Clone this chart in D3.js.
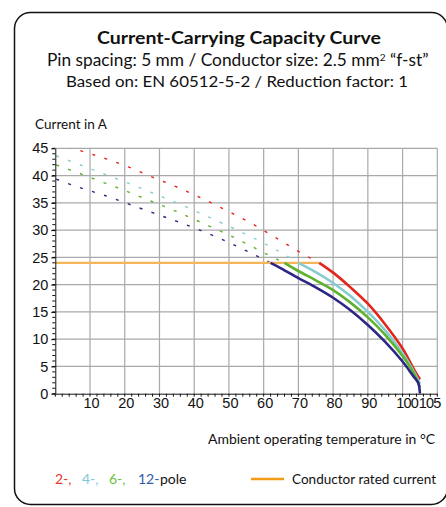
<!DOCTYPE html>
<html>
<head>
<meta charset="utf-8">
<script src="https://cdn.jsdelivr.net/npm/d3@7"></script>
<style>
  html, body { margin: 0; padding: 0; background: #fff; }
  svg { display: block; }
</style>
</head>
<body>
<svg id="chart" width="446" height="507"></svg>
<script>
// ---------- DATA ----------
const titleText = "Current-Carrying Capacity Curve";
const subtitle1 = "Pin spacing: 5 mm / Conductor size: 2.5 mm";
const subtitle1Sup = "2";
const subtitle1End = " “f-st”";
const subtitle2 = "Based on: EN 60512-5-2 / Reduction factor: 1";
const yAxisTitle = "Current in A";
const xAxisTitle = "Ambient operating temperature in °C";

const tempTicks = [10, 20, 30, 40, 50, 60, 70, 80, 90, 100, 105];
const tempGrid = [10, 20, 30, 40, 50, 60, 70, 80, 90, 100, 110];
const currentTicks = [0, 5, 10, 15, 20, 25, 30, 35, 40, 45];

const poles = ["2-", "4-", "6-", "12-"];

// extrapolated (dashed) parts: temperature and current
const extrapT_2  = [0, 7, 14, 21, 28, 35, 42, 49, 56, 63, 70, 76];
const extrapI_2  = [46.0, 44.6, 43.2, 41.6, 39.7, 37.9, 35.9, 33.7, 31.4, 28.8, 26.1, 24.0];
const extrapT_4  = [0, 7, 14, 21, 28, 35, 42, 49, 56, 63, 70];
const extrapI_4  = [43.7, 42.0, 40.3, 38.6, 36.8, 35.0, 33.0, 31.0, 28.9, 26.6, 24.0];
const extrapT_6  = [0, 7, 14, 21, 28, 35, 42, 49, 56, 63, 66];
const extrapI_6  = [42.0, 40.4, 38.7, 37.0, 35.2, 33.4, 31.4, 29.4, 27.2, 24.9, 24.0];
const extrapT_12 = [0, 7, 14, 21, 28, 35, 42, 49, 56, 62];
const extrapI_12 = [39.4, 37.8, 36.4, 34.8, 33.2, 31.6, 29.9, 28.0, 25.9, 24.0];

// derating curves (solid)
const curveT_2  = [76, 80, 85, 90, 95, 100, 103, 105];
const curveI_2  = [24.0, 22.2, 19.5, 16.5, 12.7, 8.3, 4.8, 2.6];
const curveT_4  = [70, 75, 80, 85, 90, 95, 100, 103, 105];
const curveI_4  = [24.0, 22.3, 20.3, 17.9, 15.0, 11.6, 7.4, 4.3, 1.8];
const curveT_6  = [66, 70, 75, 80, 85, 90, 95, 100, 103, 105];
const curveI_6  = [24.0, 22.5, 20.8, 19.0, 16.7, 14.0, 10.8, 6.9, 4.0, 1.2];
const curveT_12 = [62, 65, 70, 75, 80, 85, 90, 95, 100, 103, 104.5, 105];
const curveI_12 = [24.0, 23.0, 21.2, 19.5, 17.6, 15.3, 12.6, 9.5, 5.9, 3.3, 2.0, 0.0];

const ratedCurrent = 24;
const ratedTemps = [0, 76];

// ---------- STYLE ----------
const curveColors  = ["#e3261c", "#86ccd2", "#5eb22f", "#2c2684"];
const legendColors = ["#e8372c", "#7ec8dc", "#6bbf40", "#2f5ea8"];
const orange = "#f5b65a";
const orangeLegend = "#f39a16";
const textFont = "Lato, 'Open Sans', sans-serif";
const numFont = "'Liberation Sans', Arial, sans-serif";

const svg = d3.select("#chart");

// frame
svg.append("rect")
  .attr("x", 14.5).attr("y", 12.5)
  .attr("width", 433).attr("height", 492)
  .attr("rx", 16).attr("ry", 16)
  .attr("fill", "#fff").attr("stroke", "#111").attr("stroke-width", 1.5);

function fitText(sel, w) {
  sel.attr("textLength", w).attr("lengthAdjust", "spacingAndGlyphs");
  return sel;
}

// titles
fitText(svg.append("text").attr("x", 97).attr("y", 44)
  .attr("font-family", textFont).attr("font-weight", "bold").attr("font-size", 16.5)
  .attr("fill", "#111").text(titleText), 284);

const st1 = svg.append("text").attr("x", 47).attr("y", 65.5)
  .attr("font-family", textFont).attr("font-size", 15.5).attr("fill", "#111");
st1.append("tspan").text(subtitle1);
st1.append("tspan").attr("dy", -5).attr("font-size", 9).text(subtitle1Sup);
st1.append("tspan").attr("dy", 5).text(subtitle1End);
// fit width
(function(){
  const w = st1.node().getComputedTextLength();
  const target = 382;
  st1.attr("font-size", 15.5 * target / w);
  st1.selectAll("tspan").filter((d,i)=>i===1).attr("font-size", 9 * target / w);
})();

fitText(svg.append("text").attr("x", 66).attr("y", 86.5)
  .attr("font-family", textFont).attr("font-size", 15.5)
  .attr("fill", "#111").text(subtitle2), 342);

fitText(svg.append("text").attr("x", 35).attr("y", 129)
  .attr("font-family", textFont).attr("font-size", 14)
  .attr("fill", "#111").text(yAxisTitle), 72);

fitText(svg.append("text").attr("x", 208).attr("y", 444)
  .attr("font-family", textFont).attr("font-size", 14)
  .attr("fill", "#111").text(xAxisTitle), 227);

// ---------- SCALES ----------
const x = d3.scaleLinear().domain([0, 110]).range([55.3, 437.3]);
const y = d3.scaleLinear().domain([0, 45]).range([393.7, 148.3]);

// gridlines
const grid = svg.append("g").attr("stroke", "#a9a9a9").attr("stroke-width", 1.2);
grid.selectAll("line.v").data(tempGrid).join("line")
  .attr("x1", d => x(d)).attr("x2", d => x(d))
  .attr("y1", y(0)).attr("y2", y(45));
grid.selectAll("line.h").data(currentTicks.filter(d => d > 0)).join("line")
  .attr("x1", x(0)).attr("x2", x(110))
  .attr("y1", d => y(d)).attr("y2", d => y(d));

// clip
svg.append("clipPath").attr("id", "plotclip").append("rect")
  .attr("x", x(0)).attr("y", y(45)).attr("width", x(110) - x(0)).attr("height", y(0) - y(45));

const line = d3.line().x(d => x(d[0])).y(d => y(d[1])).curve(d3.curveMonotoneX);
const plot = svg.append("g").attr("clip-path", "url(#plotclip)");

const extrap = [[extrapT_2, extrapI_2], [extrapT_4, extrapI_4], [extrapT_6, extrapI_6], [extrapT_12, extrapI_12]];
const curves = [[curveT_2, curveI_2], [curveT_4, curveI_4], [curveT_6, curveI_6], [curveT_12, curveI_12]];

extrap.forEach((s, i) => {
  plot.append("path")
    .datum(s[0].map((t, j) => [t, s[1][j]]))
    .attr("d", line)
    .attr("fill", "none").attr("stroke", curveColors[i])
    .attr("stroke-width", 1.4).attr("stroke-dasharray", "3,9.6")
    .attr("stroke-dashoffset", -1);
});

// rated current line
plot.append("line")
  .attr("x1", x(ratedTemps[0])).attr("x2", x(ratedTemps[1]))
  .attr("y1", y(ratedCurrent)).attr("y2", y(ratedCurrent))
  .attr("stroke", orange).attr("stroke-width", 2.2);

const curveLine = d3.line().x(d => x(d[0])).y(d => y(d[1])).curve(d3.curveCatmullRom.alpha(0.5));
curves.forEach((s, i) => {
  plot.append("path")
    .datum(s[0].map((t, j) => [t, s[1][j]]))
    .attr("d", curveLine)
    .attr("fill", "none").attr("stroke", curveColors[i])
    .attr("stroke-width", 2.6).attr("stroke-linejoin", "round");
});

// ---------- AXES ----------
// y minor ticks
const yMinor = d3.range(0, 46, 1);
svg.append("g").selectAll("line").data(yMinor).join("line")
  .attr("x1", x(0) - 3).attr("x2", x(0))
  .attr("y1", d => y(d)).attr("y2", d => y(d))
  .attr("stroke", "#111").attr("stroke-width", 1);
// x minor ticks
const xMinor = d3.range(0, 111, 2);
svg.append("g").selectAll("line").data(xMinor).join("line")
  .attr("x1", d => x(d)).attr("x2", d => x(d))
  .attr("y1", y(0)).attr("y2", y(0) + 3)
  .attr("stroke", "#111").attr("stroke-width", 1);

const yAxis = svg.append("g").attr("transform", `translate(${x(0)},0)`)
  .call(d3.axisLeft(y).tickValues(currentTicks).tickSize(4).tickPadding(3).tickSizeOuter(0));
yAxis.select(".domain").attr("stroke", "#111");
yAxis.selectAll("text").attr("font-family", numFont).attr("font-size", 14.5).attr("fill", "#111");

const xAxis = svg.append("g").attr("transform", `translate(0,${y(0)})`)
  .call(d3.axisBottom(x).tickValues(tempTicks).tickSize(0).tickPadding(4).tickSizeOuter(0));
xAxis.select(".domain").attr("stroke", "#111");
xAxis.selectAll("text").attr("font-family", numFont).attr("font-size", 14.5).attr("fill", "#111")
  .attr("dx", d => d === 100 || d === 105 ? 0 : 1);
// crowded 100 / 105 labels sit side by side, meeting just left of the 105 position
const meetX = x(105) - 1.5;
xAxis.selectAll(".tick").filter(d => d === 100 || d === 105)
  .attr("transform", `translate(${meetX},0)`)
  .select("text")
  .attr("letter-spacing", -0.8)
  .attr("text-anchor", d => d === 100 ? "end" : "start")
  .attr("dx", d => d === 100 ? -0.3 : 0.3);
// ---------- LEGEND ----------
const legY = 484;
const legX = [55, 82, 109, 138];
const legLabels = ["2-,", "4-,", "6-,", "12-"];
legLabels.forEach((t, i) => {
  svg.append("text").attr("x", legX[i]).attr("y", legY)
    .attr("font-family", textFont).attr("font-size", 14)
    .attr("fill", legendColors[i]).text(t);
});
svg.append("text").attr("x", 160).attr("y", legY)
  .attr("font-family", textFont).attr("font-size", 14).attr("fill", "#111").text("pole");

svg.append("line").attr("x1", 251).attr("x2", 284).attr("y1", 479).attr("y2", 479)
  .attr("stroke", orangeLegend).attr("stroke-width", 2.5);
fitText(svg.append("text").attr("x", 292).attr("y", legY)
  .attr("font-family", textFont).attr("font-size", 14)
  .attr("fill", "#111").text("Conductor rated current"), 144);
</script>
</body>
</html>
